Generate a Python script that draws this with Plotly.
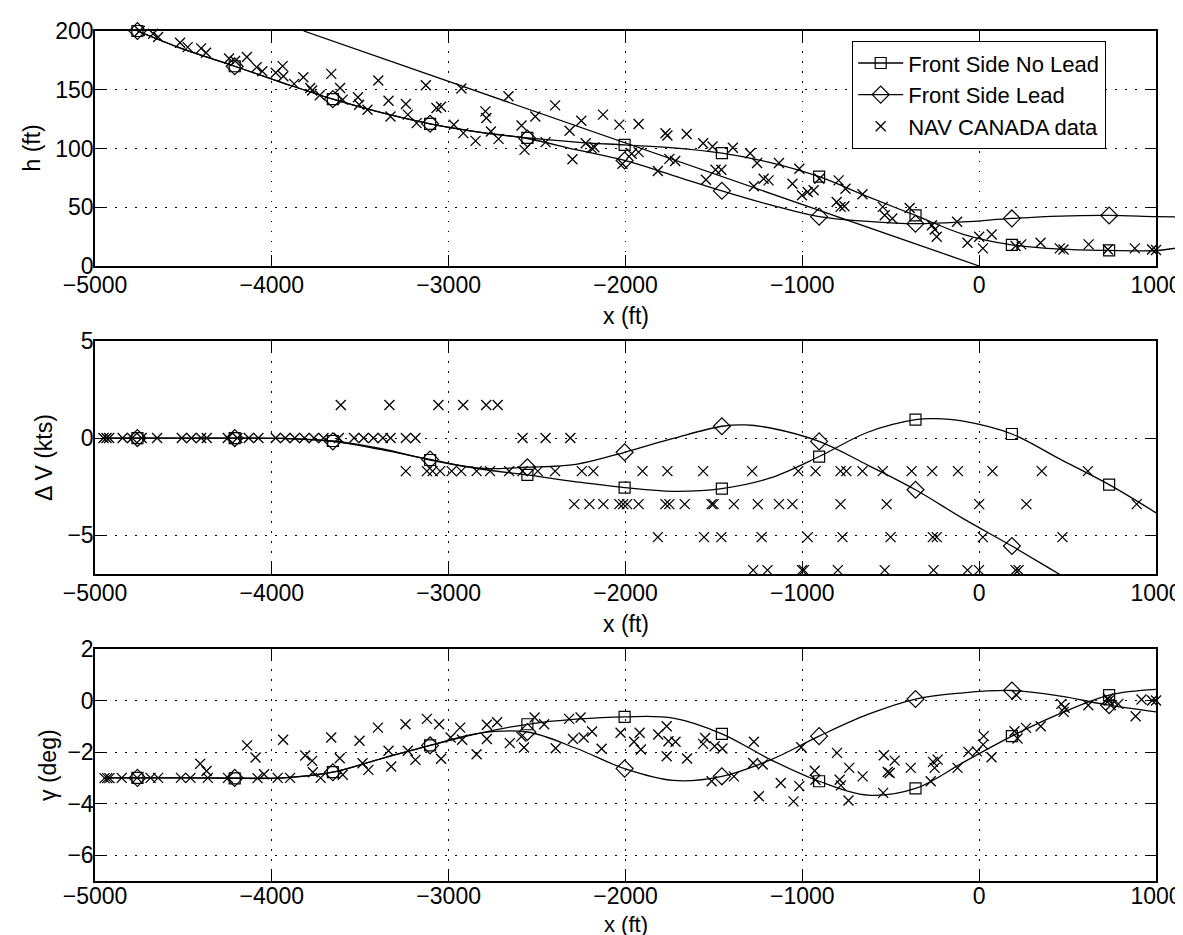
import plotly.graph_objects as go

W, H = 1183, 935
FONT = "Liberation Sans, Arial, Helvetica, sans-serif"
BLACK = "black"
FS = 23

# ---------------- common ----------------
x_ticks = [-5000, -4000, -3000, -2000, -1000, 0, 1000]
x_ticktext = ["\u22125000", "\u22124000", "\u22123000", "\u22122000", "\u22121000", "0", "1000"]
mk_x = [-4760, -4210, -3655, -3105, -2555, -2005, -1455, -905, -360, 185, 735]

# ---------------- top panel: h (ft) ----------------
h_ticks = [0, 50, 100, 150, 200]
h_curve_x = [-4760, -4500, -4210, -3930, -3655, -3380, -3105, -2830, -2555, -2280, -2005,
             -1730, -1455, -1180, -905, -630, -360, -90, 185, 460, 735, 1000, 1200]
h_nolead = [200, 184.5, 170, 155.5, 142, 130.5, 121, 114, 109, 105.5, 103,
            100.5, 96, 88, 76, 59, 43, 27, 18, 14.3, 13.3, 13.2, 17.5]
h_lead = [200, 184.5, 170, 155.5, 142, 130.5, 121, 114, 108.5, 99, 89.8,
          77, 64, 52, 42, 38, 36, 37.5, 40.5, 42.5, 43, 42, 41.5]
h_nolead_mk = [200, 170, 142, 121, 109, 103, 96, 76, 43, 18, 13.3]
h_lead_mk = [200, 170, 142, 121, 108.5, 89.8, 64, 42, 36, 40.5, 43]
glide_x = [-3820, 0]
glide_h = [200, 0]

h_nav_x = [-4747, -4671, -4643, -4519, -4476, -4400, -4372, -4242, -4208, -4141, -4086, -4054,
           -3978, -3939, -3935, -3874, -3822, -3783, -3772, -3729, -3664, -3614, -3599, -3513,
           -3506, -3459, -3398, -3340, -3329, -3242, -3231, -3181, -3129, -3069, -3043, -2971,
           -2928, -2917, -2848, -2792, -2787, -2761, -2718, -2662, -2588, -2571, -2510, -2452,
           -2398, -2316, -2300, -2250, -2225, -2192, -2127,
           -2035, -1926, -1774, -1763, -1654, -1561, -1508, -1393, -1295, -1256, -1132, -1017,
           -904, -795, -756, -660, -545, -534, -491, -393, -267, -251, -240, -125, -66, 0, 21,
           71, 206, 238, 347, 456, 477, 619, 728, 880, 978, 1000,
           -2176, -2017, -1965, -1926, -1817, -1752, -1719, -1545, -1491, -1458, -1274, -1219,
           -1191, -1056, -1002, -970, -936, -806, -784, -762]
h_nav = [200, 197.7, 194.9, 190.0, 186.3, 185.2, 181.5, 176.6, 174.4, 177.8, 169.2, 165.8,
         164.4, 170.1, 161.5, 155.0, 160.7, 151.5, 149.3, 145.3, 163.5, 151.5, 141.6, 143.6,
         137.3, 133.0, 157.8, 140.7, 127.3, 137.9, 128.8, 121.6, 153.8, 134.5, 135.6, 120.2,
         151.0, 113.1, 106.5, 131.6, 125.9, 114.5, 108.2, 144.4, 119.6, 98.8, 127.3, 105.4,
         136.7, 115.1, 90.8, 123.6, 104.5, 100.3, 128.8,
         120.3, 120.9, 113.0, 111.0, 112.4, 104.5, 101.7, 100.6, 96.0, 87.6, 87.6, 82.8,
         74.3, 72.9, 65.8, 61.0, 50.3, 43.2, 40.4, 49.4, 34.7, 31.1, 24.9, 37.6, 19.8, 24.9, 15.0,
         26.8, 17.0, 18.4, 19.8, 15.0, 14.1, 18.4, 14.1, 15.0, 14.1, 13.6,
         101.1, 87.0, 95.5, 96.9, 80.8, 91.2, 89.3, 73.4, 81.9, 81.9, 67.8, 74.3,
         72.9, 70.0, 60.2, 63.0, 64.4, 54.5, 50.3, 50.8]

# ---------------- middle panel: delta V (kts) ----------------
dv_ticks = [-5, 0, 5]
dv_ticktext = ["\u22125", "0", "5"]
dv_nolead_x = [-4950, -4760, -4485, -4210, -3935, -3655, -3380, -3105, -2830, -2555, -2280, -2005,
               -1730, -1455, -1180, -905, -630, -360, -250, -90, 185, 460, 735, 1000]
dv_nolead = [0, 0, 0, 0, -0.02, -0.15, -0.55, -1.13, -1.58, -1.9, -2.25, -2.55,
             -2.74, -2.6, -2.05, -0.95, 0.3, 0.95, 1.0, 0.87, 0.21, -1.1, -2.4, -3.85]
dv_lead_x = [-4950, -4760, -4485, -4210, -3935, -3655, -3380, -3105, -2830, -2555, -2280, -2005,
             -1730, -1455, -1320, -1180, -905, -630, -360, -90, 185, 460, 600]
dv_lead = [0, 0, 0, 0, -0.02, -0.17, -0.6, -1.1, -1.55, -1.5, -1.35, -0.73,
           -0.02, 0.61, 0.68, 0.52, -0.17, -1.39, -2.66, -4.15, -5.56, -7.05, -7.8]
dv_nolead_mk = [0, 0, -0.15, -1.13, -1.9, -2.55, -2.6, -0.95, 0.95, 0.21, -2.4]
dv_lead_mk_x = [-4760, -4210, -3655, -3105, -2555, -2005, -1455, -905, -360, 185]
dv_lead_mk = [0, 0, -0.17, -1.1, -1.5, -0.73, 0.61, -0.17, -2.66, -5.56]

# NAV CANADA speed data come in quantised levels (kts)
dv_lvl_p17 = 1.7
dv_x_p17 = [-3610, -3335, -3058, -2918, -2788, -2723]
dv_lvl_0 = 0.0
dv_x_0 = [-4952, -4935, -4920, -4844, -4790, -4736, -4649, -4509, -4455, -4400, -4368, -4249,
          -4195, -4130, -4076, -3978, -3924, -3870, -3816, -3762, -3708, -3621, -3535, -3481,
          -3426, -3372, -3329, -3242, -3188, -2582, -2452, -2312]
dv_lvl_m17 = -1.7
dv_x_m17 = [-3242, -3123, -3091, -3048, -2983, -2929, -2842, -2766, -2658, -2582, -2496, -2398,
            -2247, -2182, -1904, -1763, -1561, -1284, -1023, -925, -784, -751, -660, -545,
            -382, -266, -120, 75, 354, 615]
dv_lvl_m34 = -3.4
dv_x_m34 = [-2290, -2204, -2125, -2035, -2013, -1991, -1926, -1774, -1752, -1665, -1513, -1502,
            -1387, -1252, -1132, -1056, -784, -523, 0, 267, 891]
dv_lvl_m51 = -5.1
dv_x_m51 = [-1817, -1556, -1458, -1230, -969, -773, -501, -262, -240, 21, 471]
dv_lvl_m68 = -6.8
dv_x_m68 = [-1278, -1197, -1002, -991, -799, -534, -258, -66, -1, 206, 223]

# ---------------- bottom panel: gamma (deg) ----------------
g_ticks = [-6, -4, -2, 0, 2]
g_ticktext = ["\u22126", "\u22124", "\u22122", "0", "2"]
g_curve_x = [-4950, -4760, -4485, -4210, -3935, -3655, -3380, -3105, -2830, -2555, -2280, -2005,
             -1730, -1455, -1180, -905, -630, -360, -90, 185, 460, 735, 1000]
g_nolead = [-3.0, -3.0, -3.0, -3.02, -3.0, -2.78, -2.25, -1.74, -1.27, -0.92, -0.72, -0.63,
            -0.68, -1.29, -2.29, -3.13, -3.67, -3.41, -2.4, -1.38, -0.5, 0.21, 0.43]
g_lead = [-3.0, -3.0, -3.0, -3.0, -3.0, -2.78, -2.25, -1.74, -1.27, -1.22, -1.85, -2.64,
          -3.1, -2.94, -2.3, -1.38, -0.54, 0.06, 0.3, 0.39, 0.17, -0.18, -0.44]
g_nolead_mk = [-3.0, -3.02, -2.78, -1.74, -0.92, -0.63, -1.29, -3.13, -3.41, -1.38, 0.21]
g_lead_mk = [-3.0, -3.0, -2.78, -1.74, -1.22, -2.64, -2.94, -1.38, 0.06, 0.39, -0.18]

g_nav_x = [-4946, -4931, -4918, -4849, -4762, -4686, -4643, -4514, -4460, -4405, -4369, -4362,
           -4248, -4140, -4092, -4081, -4044, -3967, -3936, -3897, -3811, -3772, -3768, -3724,
           -3664, -3616, -3599, -3504, -3487, -3454, -3400, -3340, -3325, -3244, -3231, -3188,
           -3123, -3054, -3043, -2989, -2935, -2924, -2842, -2784, -2784, -2726, -2654, -2589,
           -2574, -2514, -2460, -2395, -2319, -2297, -2254, -2237, -2189, -2135,
           -2028, -1952, -1920, -1913, -1815, -1767, -1767, -1757, -1717, -1652, -1561, -1550,
           -1496, -1452, -1513, -1387, -1274, -1278, -1246, -1224, -1122, -1050, -1017, -1006,
           -930, -926, -804, -789, -782, -739, -735, -659, -543, -539, -517, -506, -478, -387,
           -274, -261, -252, -235, -122, -61, -13, 26, 22, 70, 200, 217, 211, 265, 348, 465,
           478, 483, 617, 728, 733, 744, 787, 885, 918, 978, 1000]
g_nav = [-3.01, -3.01, -3.01, -3.0, -3.0, -3.0, -3.0, -3.0, -3.0, -2.45, -2.73, -3.0,
         -3.0, -1.74, -2.21, -3.01, -2.86, -3.0, -1.52, -3.0, -2.13, -2.34, -2.78, -3.0,
         -1.43, -2.24, -2.88, -1.56, -2.43, -2.69, -1.05, -1.95, -2.56, -0.92, -1.95, -2.30,
         -0.71, -0.92, -2.26, -1.43, -1.05, -1.52, -2.08, -0.94, -1.49, -0.84, -1.65, -1.40,
         -1.82, -0.66, -0.92, -1.85, -0.71, -1.49, -0.66, -1.43, -1.20, -1.87,
         -1.25, -1.60, -1.25, -1.90, -1.32, -1.00, -2.16, -1.58, -1.60, -2.25, -1.68, -1.45,
         -1.77, -1.86, -3.13, -2.94, -1.60, -2.42, -3.71, -2.48, -3.20, -3.91, -3.32, -1.81,
         -2.72, -3.07, -2.03, -3.07, -3.29, -3.88, -2.61, -2.94, -3.58, -2.12, -2.77, -2.81, -2.33, -2.61,
         -3.13, -2.38, -2.61, -2.29, -2.61, -1.99, -1.97, -1.38, -1.71, -2.20, -1.19, -1.47, 0.21, -1.06, -1.00, -0.13,
         -0.44, -0.28, -0.18, 0.08, 0.0, -0.18, -0.13, -0.61, 0.04, 0.0, 0.0]

legend_names = ["Front Side No Lead", "Front Side Lead", "NAV CANADA data"]

# ---------------- layout geometry (pixels -> paper) ----------------
PX_L, PX_R = 87, 1148
px_panels = [(23, 258), (333, 566), (641, 873)]


def xd(px):
    return px / W


def yd(py):
    return 1 - py / H


LINE = dict(color=BLACK, width=1.3, shape="spline", smoothing=1.0)
SQ = dict(symbol="square-open", size=11, color=BLACK, line=dict(color=BLACK, width=1.2))
DI = dict(symbol="diamond-open", size=13, color=BLACK, line=dict(color=BLACK, width=1.2))
XM = dict(symbol="x-thin-open", size=10, color=BLACK, line=dict(color=BLACK, width=1.3))

fig = go.Figure()


def add_line(x, y, xa, ya):
    fig.add_trace(go.Scatter(x=x, y=y, mode="lines", line=LINE, xaxis=xa, yaxis=ya,
                             showlegend=False, hoverinfo="skip"))


def add_markers(x, y, m, xa, ya):
    fig.add_trace(go.Scatter(x=x, y=y, mode="markers", marker=m, xaxis=xa, yaxis=ya,
                             showlegend=False, cliponaxis=False, hoverinfo="skip"))


# top panel lines on an extended (invisible) axis so they run past the frame
add_line(h_curve_x, h_nolead, "x4", "y4")
add_line(h_curve_x, h_lead, "x4", "y4")
add_line(glide_x, glide_h, "x4", "y4")
add_markers(h_nav_x, h_nav, XM, "x", "y")
add_markers(mk_x, h_nolead_mk, SQ, "x", "y")
add_markers(mk_x, h_lead_mk, DI, "x", "y")

# middle panel
add_line(dv_nolead_x, dv_nolead, "x2", "y2")
add_line(dv_lead_x, dv_lead, "x2", "y2")
dv_nav_x = dv_x_p17 + dv_x_0 + dv_x_m17 + dv_x_m34 + dv_x_m51 + dv_x_m68
dv_nav = ([dv_lvl_p17] * len(dv_x_p17) + [dv_lvl_0] * len(dv_x_0) + [dv_lvl_m17] * len(dv_x_m17)
          + [dv_lvl_m34] * len(dv_x_m34) + [dv_lvl_m51] * len(dv_x_m51) + [dv_lvl_m68] * len(dv_x_m68))
add_markers(dv_nav_x, dv_nav, XM, "x2", "y2")
add_markers(mk_x, dv_nolead_mk, SQ, "x2", "y2")
add_markers(dv_lead_mk_x, dv_lead_mk, DI, "x2", "y2")

# bottom panel
add_line(g_curve_x, g_nolead, "x3", "y3")
add_line(g_curve_x, g_lead, "x3", "y3")
add_markers(g_nav_x, g_nav, XM, "x3", "y3")
add_markers(mk_x, g_nolead_mk, SQ, "x3", "y3")
add_markers(mk_x, g_lead_mk, DI, "x3", "y3")

# legend-only entries
for name, m, mode in [(legend_names[0], SQ, "lines+markers"), (legend_names[1], DI, "lines+markers"),
                      (legend_names[2], XM, "markers")]:
    fig.add_trace(go.Scatter(x=[None], y=[None], mode=mode, name=name, marker=m,
                             line=dict(color=BLACK, width=1.3), xaxis="x", yaxis="y"))

TICKFONT = dict(family=FONT, size=FS, color=BLACK)


def xaxis_cfg(anchor, standoff=-2):
    return dict(domain=[xd(PX_L), xd(PX_R)], range=[-5000, 1000], tickvals=x_ticks, ticktext=x_ticktext,
                ticks="inside", ticklen=11, tickwidth=1, tickcolor=BLACK, showline=True, linecolor=BLACK,
                linewidth=1.5, mirror="ticks", showgrid=True, gridcolor=BLACK, gridwidth=1.2,
                griddash="1.5px,8.5px", zeroline=False, tickfont=TICKFONT, ticklabelstandoff=standoff,
                anchor=anchor, fixedrange=True, automargin=False)


def yaxis_cfg(anchor, panel, rng, tv, tt):
    top, bot = px_panels[panel]
    return dict(domain=[yd(bot), yd(top)], range=rng, tickvals=tv, ticktext=tt,
                ticks="inside", ticklen=11, tickwidth=1, tickcolor=BLACK, showline=True, linecolor=BLACK,
                linewidth=1.5, mirror="ticks", showgrid=True, gridcolor=BLACK, gridwidth=1.2,
                griddash="1.5px,8.5px", zeroline=False, tickfont=TICKFONT, ticklabelstandoff=-5,
                anchor=anchor, fixedrange=True, automargin=False)


x_ext_max = -5000 + 6000 * (W - PX_L) / (PX_R - PX_L)

ann = []
for py, fs in [(308, FS), (616, FS), (916, 22)]:
    ann.append(dict(text="x (ft)", x=xd((PX_L + PX_R) / 2), y=yd(py), xref="paper", yref="paper",
                    showarrow=False, xanchor="center", yanchor="middle",
                    font=dict(family=FONT, size=fs, color=BLACK)))
for label, px, py in [("h (ft)", 23, 140.5), ("\u0394 V (kts)", 36, 450), ("\u03b3 (deg)", 40, 757)]:
    ann.append(dict(text=label, x=xd(px), y=yd(py), xref="paper", yref="paper", showarrow=False,
                    textangle=-90, xanchor="center", yanchor="middle",
                    font=dict(family=FONT, size=FS, color=BLACK)))

fig.update_layout(
    template="none",
    width=W, height=H, autosize=False,
    margin=dict(l=0, r=0, t=0, b=0, pad=0),
    paper_bgcolor="white", plot_bgcolor="rgba(0,0,0,0)",
    font=dict(family=FONT, size=FS, color=BLACK),
    xaxis=xaxis_cfg("y"), xaxis2=xaxis_cfg("y2"), xaxis3=xaxis_cfg("y3", standoff=-6),
    yaxis=yaxis_cfg("x", 0, [0, 200], h_ticks, [str(v) for v in h_ticks]),
    yaxis2=yaxis_cfg("x2", 1, [-7, 5], dv_ticks, dv_ticktext),
    yaxis3=yaxis_cfg("x3", 2, [-7, 2], g_ticks, g_ticktext),
    xaxis4=dict(domain=[xd(PX_L), 1.0], range=[-5000, x_ext_max], visible=False, anchor="y4",
                fixedrange=True, automargin=False),
    yaxis4=dict(domain=[yd(px_panels[0][1]), yd(px_panels[0][0])], range=[0, 200], visible=False,
                anchor="x4", fixedrange=True, automargin=False),
    legend=dict(x=xd(844), y=yd(33), xanchor="left", yanchor="top", bgcolor="white",
                bordercolor=BLACK, borderwidth=1.2, font=dict(family=FONT, size=22, color=BLACK),
                itemwidth=45, itemsizing="trace", tracegroupgap=0),
    annotations=ann,
    showlegend=True,
)

fig.write_html("out.html")
